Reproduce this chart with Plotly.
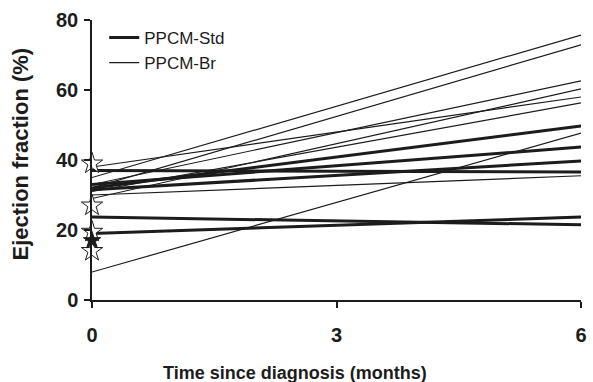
import plotly.graph_objects as go

# Follow-up time points (months since diagnosis)
months = [0, 6]

# Ejection fraction (%) per patient, at diagnosis and at 6 months
std_start = [37.0, 32.0, 33.0, 31.5, 23.7, 19.0]
std_end = [36.6, 49.7, 43.7, 39.7, 21.5, 23.7]

br_start = [35.0, 32.0, 38.0, 33.0, 29.0, 31.0, 30.0, 8.0]
br_end = [75.7, 72.9, 58.0, 62.6, 60.3, 56.3, 35.5, 47.7]

# Baseline event markers
star_open = [39.0, 27.0, 19.5, 14.0]
star_filled = [17.0]

x_ticks = [0, 3, 6]
y_ticks = [0, 20, 40, 60, 80]

INK = "#1c1c1c"
FONT = "Liberation Sans, Arial, sans-serif"

fig = go.Figure()

for i, (a, b) in enumerate(zip(std_start, std_end)):
    fig.add_trace(go.Scatter(
        x=months, y=[a, b], mode="lines",
        line=dict(color=INK, width=3),
        name="PPCM-Std", legendgroup="std", showlegend=(i == 0),
    ))

for i, (a, b) in enumerate(zip(br_start, br_end)):
    fig.add_trace(go.Scatter(
        x=months, y=[a, b], mode="lines",
        line=dict(color=INK, width=1.2),
        name="PPCM-Br", legendgroup="br", showlegend=(i == 0),
    ))

fig.add_trace(go.Scatter(
    x=[0] * len(star_open), y=star_open, mode="markers",
    marker=dict(symbol="star", size=16, color="white",
                line=dict(color=INK, width=1)),
    showlegend=False, cliponaxis=False,
))
fig.add_trace(go.Scatter(
    x=[0] * len(star_filled), y=star_filled, mode="markers",
    marker=dict(symbol="star", size=13, color=INK,
                line=dict(color=INK, width=1)),
    showlegend=False, cliponaxis=False,
))

fig.update_layout(
    width=593, height=382,
    margin=dict(l=92, r=6, t=20, b=82),
    paper_bgcolor="white", plot_bgcolor="white",
    font=dict(family=FONT, color=INK),
    legend=dict(
        x=0.025, y=1.0, xanchor="left", yanchor="top",
        bgcolor="rgba(0,0,0,0)", font=dict(size=17, color=INK),
        tracegroupgap=0,
    ),
    xaxis=dict(
        range=[0, 6], tickvals=x_ticks, showgrid=False, zeroline=False,
        showline=True, linecolor=INK, linewidth=1.5,
        ticks="outside", ticklen=6, tickwidth=1.5, tickcolor=INK,
        tickfont=dict(size=20, weight="bold", color=INK),
        ticklabelstandoff=10,
    ),
    yaxis=dict(
        range=[0, 80], tickvals=y_ticks, showgrid=False, zeroline=False,
        showline=True, linecolor=INK, linewidth=1.5,
        ticks="outside", ticklen=6, tickwidth=1.5, tickcolor=INK,
        tickfont=dict(size=20, weight="bold", color=INK),
        ticklabelstandoff=2,
    ),
    annotations=[
        dict(text="Time since diagnosis (months)", xref="paper", yref="paper",
             x=0.416, y=-0.26, showarrow=False, xanchor="center", yanchor="middle",
             font=dict(size=18, weight="bold", color=INK)),
        dict(text="Ejection fraction (%)", xref="paper", yref="paper",
             x=-0.147, y=0.52, showarrow=False, textangle=-90,
             xanchor="center", yanchor="middle",
             font=dict(size=22, weight="bold", color=INK)),
    ],
)

fig.write_html("out.html")
